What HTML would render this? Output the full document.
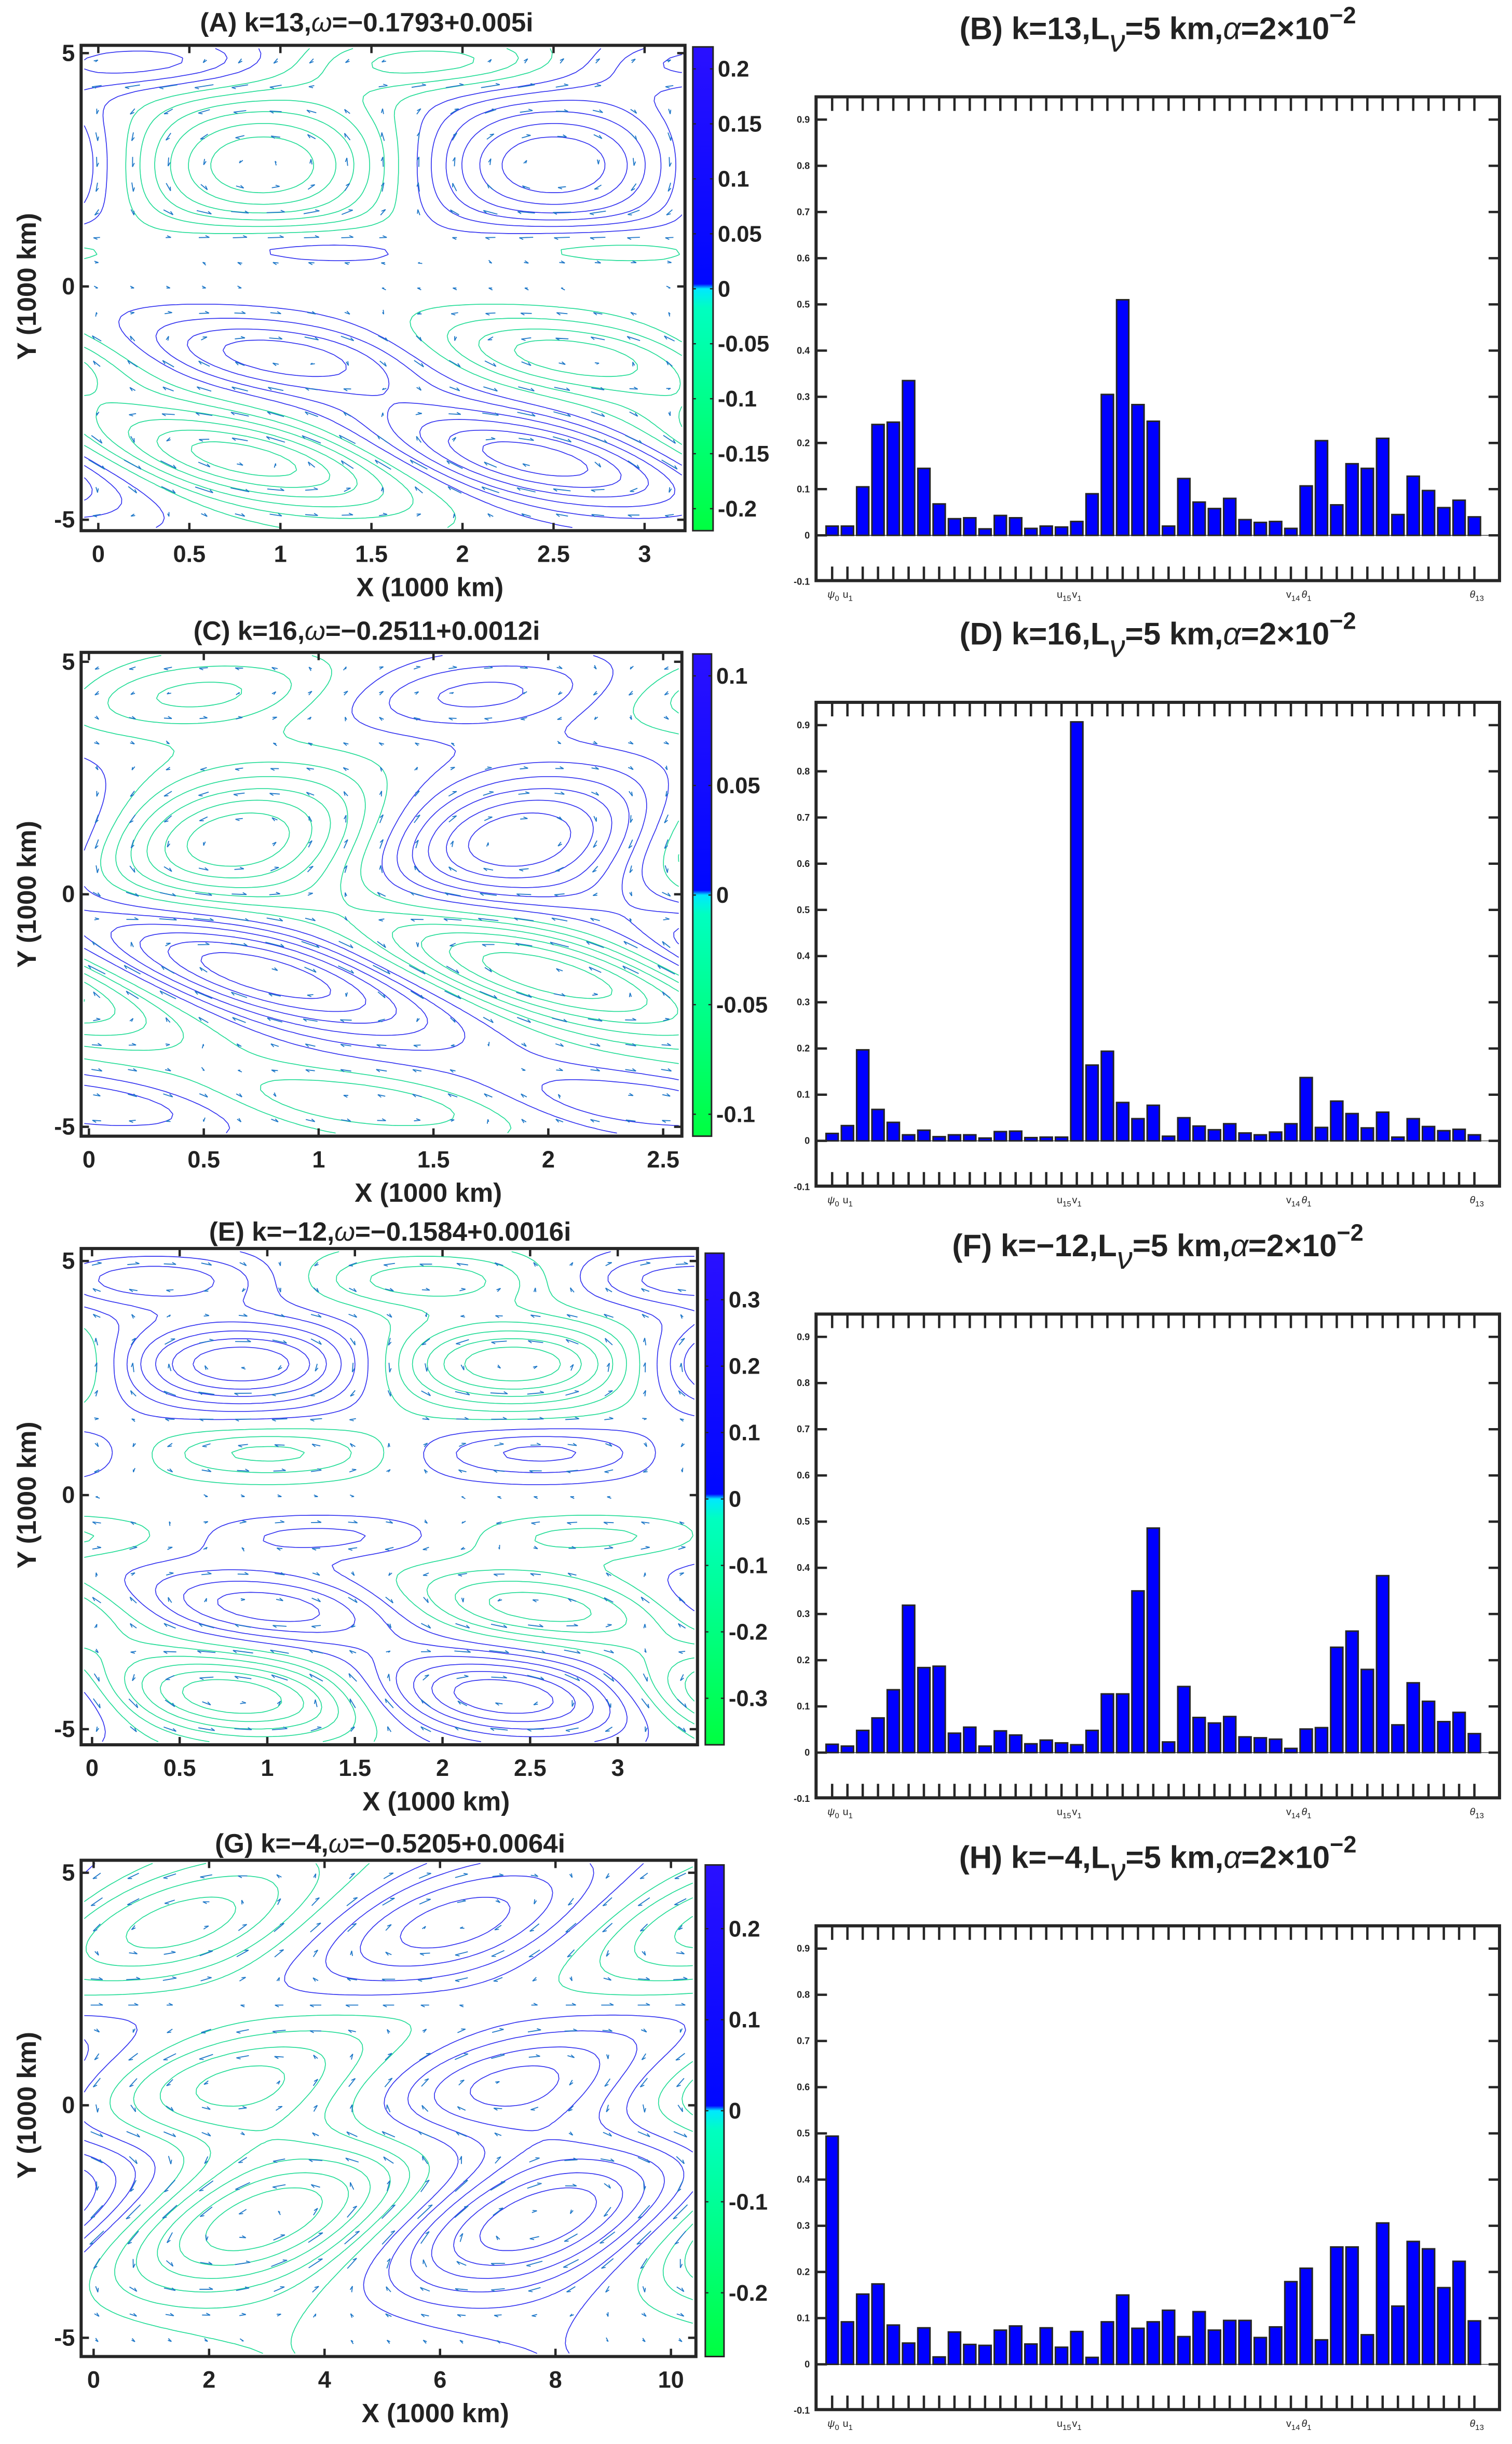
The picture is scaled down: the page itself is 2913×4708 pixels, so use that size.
<!DOCTYPE html>
<html><head><meta charset="utf-8"><style>
html,body{margin:0;padding:0;background:#fff;}
svg{display:block;font-family:"Liberation Sans",sans-serif;}
</style></head><body>
<svg id="fig" xmlns="http://www.w3.org/2000/svg" width="2913" height="4708" viewBox="0 0 969 1566">
<defs>
<linearGradient id="cbar" x1="0" y1="0" x2="0" y2="1">
<stop offset="0" stop-color="#2a10ff"/><stop offset="0.49" stop-color="#0008ff"/>
<stop offset="0.5" stop-color="#00e8ff"/><stop offset="0.54" stop-color="#00ffc0"/>
<stop offset="1" stop-color="#00ff40"/></linearGradient>
</defs>
</svg>
<script>
var NS="http://www.w3.org/2000/svg";
var fig=document.getElementById('fig');
// ---- bar chart data ----
var yTickValues=[-0.1,0,0.1,0.2,0.3,0.4,0.5,0.6,0.7,0.8,0.9];
var yTickLabels=["-0.1","0","0.1","0.2","0.3","0.4","0.5","0.6","0.7","0.8","0.9"];
var barsB=[0.02,0.02,0.105,0.24,0.245,0.335,0.145,0.068,0.036,0.038,0.014,0.043,0.038,0.015,0.02,0.018,0.03,0.09,0.305,0.51,0.283,0.247,0.02,0.123,0.072,0.058,0.08,0.034,0.028,0.03,0.015,0.107,0.205,0.066,0.155,0.145,0.21,0.045,0.128,0.097,0.06,0.076,0.04];
var barsD=[0.016,0.033,0.197,0.068,0.04,0.013,0.023,0.009,0.013,0.013,0.006,0.02,0.021,0.007,0.008,0.008,0.907,0.164,0.194,0.083,0.048,0.077,0.01,0.05,0.032,0.024,0.037,0.017,0.013,0.019,0.037,0.137,0.029,0.086,0.059,0.028,0.062,0.008,0.048,0.031,0.022,0.025,0.013];
var barsF=[0.018,0.014,0.048,0.075,0.136,0.319,0.184,0.187,0.042,0.055,0.014,0.047,0.038,0.019,0.027,0.021,0.017,0.048,0.127,0.127,0.35,0.486,0.023,0.143,0.076,0.064,0.078,0.034,0.032,0.029,0.009,0.051,0.054,0.228,0.263,0.18,0.383,0.06,0.151,0.111,0.067,0.087,0.041];
var barsH=[0.494,0.092,0.152,0.174,0.085,0.046,0.079,0.016,0.07,0.043,0.041,0.074,0.083,0.044,0.079,0.037,0.071,0.015,0.092,0.15,0.078,0.092,0.117,0.06,0.114,0.074,0.095,0.095,0.058,0.081,0.179,0.208,0.053,0.254,0.254,0.064,0.306,0.126,0.266,0.25,0.166,0.223,0.094];
var catLabelIdx=[0,1,15,16,30,31,42];
var catLabelMain=["ψ","u","u","v","v","θ","θ"];
var catLabelSub=["0","1","15","1","14","1","13"];

function el(tag,attrs,parent){
  var e=document.createElementNS(NS,tag);
  Object.keys(attrs).forEach(function(k){e.setAttribute(k,String(attrs[k]));});
  (parent||fig).appendChild(e);
  return e;
}
function txt(s,attrs,parent){var e=el('text',attrs,parent);e.textContent=s;return e;}
function tsp(parent,s,extra){var e=document.createElementNS(NS,'tspan');e.textContent=s;if(extra){Object.keys(extra).forEach(function(k){e.setAttribute(k,extra[k]);});}parent.appendChild(e);return e;}

function barPanel(letter,kstr,vals,off){
  var g=el('g',{});
  
  
  var L=523,R=961,T=62+off,B=372+off,zero=343+off,sc=296;
  function ys(v){return zero-v*sc;}
  function xs(i){return 533.3+i*9.8;}
  var t=el('text',{x:742,y:25+off,'text-anchor':'middle','font-size':20,'font-weight':'bold',fill:'#222'},g);
  
  
  tsp(t,'('+letter+') '+kstr+',L');
  tsp(t,'ν',{dy:'8','font-style':'italic','font-weight':'normal'});
  tsp(t,'=5 km,',{dy:'-8'});
  tsp(t,'α',{'font-style':'italic','font-weight':'normal'});
  tsp(t,'=2×10');
  tsp(t,'−2',{dy:'-10','font-size':'15'});
  var zl=el('line',{x1:L,x2:R-6,y1:zero,y2:zero,stroke:'#222','stroke-width':0.4},g);
  
  
  vals.forEach(function(v,i){
    var y=Math.min(ys(v),zero);
    var r=el('rect',{x:xs(i)-3.9,y:y,width:7.8,height:Math.abs(ys(v)-zero),fill:'#0000ff',stroke:'#262626','stroke-width':1},g);
    
    
    el('line',{x1:xs(i),x2:xs(i),y1:T,y2:T+9,stroke:'#262626','stroke-width':1.5},g);
    el('line',{x1:xs(i),x2:xs(i),y1:B,y2:B-9,stroke:'#262626','stroke-width':1.5},g);
  });
  yTickValues.forEach(function(v,i){
    var y=ys(v);
    if(v>-0.05){
      el('line',{x1:L,x2:L+7,y1:y,y2:y,stroke:'#262626','stroke-width':1.5},g);
      el('line',{x1:R,x2:R-7,y1:y,y2:y,stroke:'#262626','stroke-width':1.5},g);
    }
    var tl=txt(yTickLabels[i],{x:L-4,y:y+2,'text-anchor':'end','font-size':6,'font-weight':'bold',fill:'#222'},g);
    
    
  });
  var bx=el('rect',{x:L,y:T,width:R-L,height:B-T,fill:'none',stroke:'#262626','stroke-width':2},g);
  
  
  catLabelIdx.forEach(function(idx,j){
    var ct=el('text',{x:xs(idx)-3,y:B+11,'font-size':6.5,fill:'#222'},g);
    
    
    var it=(catLabelMain[j]==='ψ'||catLabelMain[j]==='θ');
    tsp(ct,catLabelMain[j],it?{'font-style':'italic'}:null);
    tsp(ct,catLabelSub[j],{dy:'2','font-size':'5'});
  });
}
try{barPanel('B','k=13',barsB,0);}catch(e){}
try{barPanel('D','k=16',barsD,388);}catch(e){}
try{barPanel('F',' k=−12',barsF,780);}catch(e){}
try{barPanel('H',' k=−4',barsH,1172);}catch(e){}

// ---- contour panels ----
function mkField(rows,period){
  return function(x,y){
    var s=0;
    for(var n=0;n<rows.length;n++){
      var r=rows[n],yc=r[0],A=r[1],xc=r[2],w=r[3],tilt=r[4];
      var q=(y-yc)/w;
      s+=A*Math.exp(-q*q)*Math.cos(2*Math.PI*(x-xc-tilt*(y-yc))/period);
    }
    return s;
  };
}
var panels=[
 {letter:'A',title:'(A) k=13,',wrest:'=−0.1793+0.005i',tx:235,ty:20,box:[52,439,29,340],x0px:63,xPer:116.7,y5:34,ym5:333,
  xt:[0,0.5,1,1.5,2,2.5,3],xtl:["0","0.5","1","1.5","2","2.5","3"],cb:[444,457,30,340],cbMax:0.22,cbt:[0.2,0.15,0.1,0.05,0,-0.05,-0.1,-0.15,-0.2],cbl:["0.2","0.15","0.1","0.05","0","-0.05","-0.1","-0.15","-0.2"],
  field:mkField([[2.6,-1,0.9,1.5,0],[0.9,0.35,1.0,0.55,-0.2],[-1.5,0.65,1.0,0.85,-0.35],[-3.7,-0.95,0.8,1.1,-0.45],[4.8,0.5,0.3,0.6,0]],3.2)},
 {letter:'C',title:'(C) k=16,',wrest:'=−0.2511+0.0012i',tx:235,ty:410,box:[52,437,418,728],x0px:57,xPer:147.2,y5:424,ym5:722,
  xt:[0,0.5,1,1.5,2,2.5],xtl:["0","0.5","1","1.5","2","2.5"],cb:[444,456,419,728],cbMax:0.11,cbt:[0.1,0.05,0,-0.05,-0.1],cbl:["0.1","0.05","0","-0.05","-0.1"],
  field:mkField([[1.2,-1,0.65,1.4,0.1],[-1.7,1,0.75,1.4,-0.4],[4.3,0.45,1.7,0.8,0.2],[-4.5,-0.4,1.2,0.7,-0.4]],2.45)},
 {letter:'E',title:'(E)  k=−12,',wrest:'=−0.1584+0.0016i',tx:250,ty:795,box:[52,447,800,1118],x0px:59,xPer:112.3,y5:808,ym5:1108,
  xt:[0,0.5,1,1.5,2,2.5,3],xtl:["0","0.5","1","1.5","2","2.5","3"],cb:[452,464,803,1118],cbMax:0.37,cbt:[0.3,0.2,0.1,0,-0.1,-0.2,-0.3],cbl:["0.3","0.2","0.1","0","-0.1","-0.2","-0.3"],
  field:mkField([[4.6,-0.5,1.9,0.6,0],[2.8,1,0.85,0.9,0],[0.9,-0.45,1.0,0.55,0],[-0.9,0.3,1.3,0.45,0],[-2.4,0.65,1.0,0.8,-0.3],[-4.3,-1,0.8,0.9,-0.2]],3.1)},
 {letter:'G',title:'(G)  k=−4,',wrest:'=−0.5205+0.0064i',tx:250,ty:1187,box:[52,446,1192,1510],x0px:60,xPer:37,y5:1200,ym5:1498,
  xt:[0,2,4,6,8,10],xtl:["0","2","4","6","8","10"],cb:[452,464,1195,1510],cbMax:0.27,cbt:[0.2,0.1,0,-0.1,-0.2],cbl:["0.2","0.1","0","-0.1","-0.2"],
  field:mkField([[3.8,0.7,6.0,1.6,0.8],[0.3,0.6,6.5,1.3,0.7],[-2.6,-0.75,2.5,1.6,0.9],[0,0.25,0,6,0.2]],9.5)}
];
var levels=[-0.85,-0.7,-0.55,-0.4,-0.25,-0.1,0.1,0.25,0.4,0.55,0.7,0.85];

function contourPanel(p){
  var g=el('g',{});
  
  
  var L=p.box[0],R=p.box[1],T=p.box[2],B=p.box[3];
  var yPer=(p.ym5-p.y5)/10;
  function toX(px){return (px-p.x0px)/p.xPer;}
  function toY(py){return 5-(py-p.y5)/yPer;}
  var t=el('text',{x:p.tx,y:p.ty,'text-anchor':'middle','font-size':17,'font-weight':'bold',fill:'#222'},g);
  
  
  tsp(t,p.title);
  tsp(t,'ω',{'font-style':'italic','font-weight':'normal'});
  tsp(t,p.wrest);
  var nx=110,ny=100,x0=L+2,x1=R-2,y0=T+2,y1=B-2;
  var dx=(x1-x0)/nx,dy=(y1-y0)/ny;
  var V=[],i,j;
  for(j=0;j<=ny;j++){V.push([]);for(i=0;i<=nx;i++)V[j].push(p.field(toX(x0+i*dx),toY(y0+j*dy)));}
  var mx=0;
  for(j=0;j<=ny;j++)for(i=0;i<=nx;i++)if(Math.abs(V[j][i])>mx)mx=Math.abs(V[j][i]);
  levels.forEach(function(lv){
    var l=lv*mx,d='';
    for(var jj=0;jj<ny;jj++)for(var ii=0;ii<nx;ii++){
      var c=[[x0+ii*dx,y0+jj*dy,V[jj][ii]],[x0+(ii+1)*dx,y0+jj*dy,V[jj][ii+1]],[x0+(ii+1)*dx,y0+(jj+1)*dy,V[jj+1][ii+1]],[x0+ii*dx,y0+(jj+1)*dy,V[jj+1][ii]]];
      var pts=[];
      for(var e=0;e<4;e++){var a=c[e],b=c[(e+1)%4];
        if((a[2]-l)*(b[2]-l)<0){var f=(l-a[2])/(b[2]-a[2]);pts.push([a[0]+f*(b[0]-a[0]),a[1]+f*(b[1]-a[1])]);}}
      for(var k=0;k+1<pts.length;k+=2)d+='M'+pts[k][0].toFixed(1)+' '+pts[k][1].toFixed(1)+'L'+pts[k+1][0].toFixed(1)+' '+pts[k+1][1].toFixed(1);
    }
    if(d){
      var path=el('path',{d:d,fill:'none',stroke:lv>0?'#3232f0':'#22dc96','stroke-width':0.55},g);
      
      
    }
  });
  // quiver arrows from analytic gradient (pixel space)
  var qx=17,qy=19,vecs=[],vmax=0;
  for(j=0;j<qy;j++)for(i=0;i<qx;i++){
    var px=L+10+i*(R-L-20)/(qx-1),py=T+10+j*(B-T-20)/(qy-1);
    var h=1;
    var gx=(p.field(toX(px+h),toY(py))-p.field(toX(px-h),toY(py)))/(2*h);
    var gy=(p.field(toX(px),toY(py+h))-p.field(toX(px),toY(py-h)))/(2*h);
    var ax=gy,ay=-gx;
    var m=Math.sqrt(ax*ax+ay*ay);
    if(m>vmax)vmax=m;
    vecs.push([px,py,ax,ay,m]);
  }
  var ad='';
  vecs.forEach(function(q){
    var len=q[4]/vmax*13;
    if(len<1.2)return;
    var ux=q[2]/q[4],uy=q[3]/q[4];
    var sx=q[0]-ux*len/2,sy=q[1]-uy*len/2,ex=q[0]+ux*len/2,ey=q[1]+uy*len/2;
    ad+='M'+sx.toFixed(1)+' '+sy.toFixed(1)+'L'+ex.toFixed(1)+' '+ey.toFixed(1)+'M'+(ex-2.5*ux+1.2*uy).toFixed(1)+' '+(ey-2.5*uy-1.2*ux).toFixed(1)+'L'+ex.toFixed(1)+' '+ey.toFixed(1);
  });
  if(ad){
    var ar=el('path',{d:ad,fill:'none',stroke:'#1f78c8','stroke-width':0.6},g);
    
    
  }
  var bx=el('rect',{x:L,y:T,width:R-L,height:B-T,fill:'none',stroke:'#262626','stroke-width':2},g);
  
  
  p.xt.forEach(function(v,n){
    var x=p.x0px+v*p.xPer;
    el('line',{x1:x,x2:x,y1:B,y2:B-5,stroke:'#262626','stroke-width':1.5},g);
    el('line',{x1:x,x2:x,y1:T,y2:T+5,stroke:'#262626','stroke-width':1.5},g);
    var tl=txt(p.xtl[n],{x:x,y:B+20,'text-anchor':'middle','font-size':15,'font-weight':'bold',fill:'#222'},g);
    
    
  });
  [5,0,-5].forEach(function(v){
    var y=p.y5+(5-v)*yPer;
    el('line',{x1:L,x2:L+5,y1:y,y2:y,stroke:'#262626','stroke-width':1.5},g);
    el('line',{x1:R,x2:R-5,y1:y,y2:y,stroke:'#262626','stroke-width':1.5},g);
    var tl=txt(String(v),{x:L-4,y:y+5,'text-anchor':'end','font-size':15,'font-weight':'bold',fill:'#222'},g);
    
    
  });
  var xl=txt('X (1000 km)',{x:(L+R)/2+30,y:B+42,'text-anchor':'middle','font-size':17,'font-weight':'bold',fill:'#222'},g);
  
  
  var yc=(p.y5+p.ym5)/2;
  var yl=txt('Y (1000 km)',{x:23,y:yc,'text-anchor':'middle','font-size':17,'font-weight':'bold',fill:'#222',transform:'rotate(-90 23 '+yc+')'},g);
  
  
  var cL=p.cb[0],cR=p.cb[1],cT=p.cb[2],cB=p.cb[3];
  var cb=el('rect',{x:cL,y:cT,width:cR-cL,height:cB-cT,fill:'url(#cbar)',stroke:'#262626','stroke-width':1},g);
  
  
  var cmid=(cT+cB)/2,cs=(cB-cT)/2/p.cbMax;
  p.cbt.forEach(function(v,n){
    var y=cmid-v*cs;
    el('line',{x1:cL,x2:cL+2,y1:y,y2:y,stroke:'#222','stroke-width':0.8},g);
    el('line',{x1:cR,x2:cR-2,y1:y,y2:y,stroke:'#222','stroke-width':0.8},g);
    var tl=txt(p.cbl[n],{x:cR+3,y:y+5,'font-size':14.5,'font-weight':'bold',fill:'#222'},g);
    
    
  });
}
panels.forEach(function(p){try{contourPanel(p);}catch(e){}});
</script>
</body></html>
